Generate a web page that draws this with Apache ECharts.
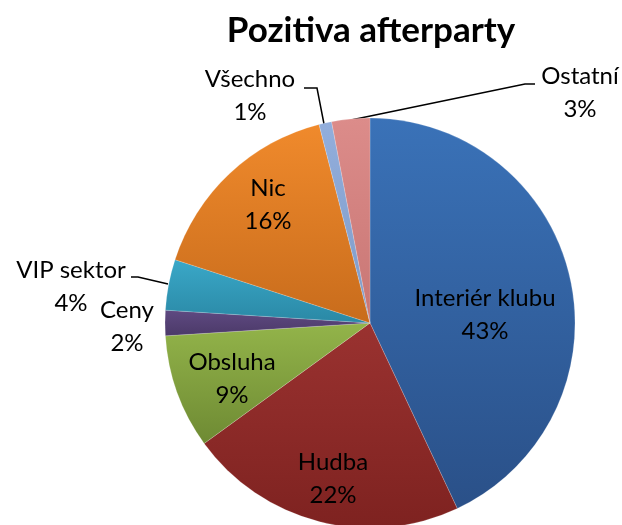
<!DOCTYPE html>
<html><head><meta charset="utf-8">
<script src="https://cdn.jsdelivr.net/npm/echarts@6/dist/echarts.min.js"></script>
<style>html,body{margin:0;padding:0;background:#fff}#c{width:622px;height:525px}</style>
</head><body><div id="c"></div>
<script>
const categories = ['Interiér klubu','Hudba','Obsluha','Ceny','VIP sektor','Nic','Všechno','Ostatní'];
const values = [43, 22, 9, 2, 4, 16, 1, 3];
const colorsTop = ['#3A72B8','#9A3230','#93B44A','#5F4A82','#3AA8C8','#F08A2C','#92AEDC','#DC8C8A'];
const colorsBottom = ['#2A5088','#7E2220','#6E8A33','#4B3968','#2A88A5','#C86C1C','#7F9BC8','#C87674'];

// label placement (styling): centre of the label, optional leader line points
const labelPlaces = [
  {x: 485, y: 315},
  {x: 333, y: 479},
  {x: 232, y: 379},
  {x: 127, y: 327},
  {x: 71, y: 287, line: [[168, 284], [138, 277], [131, 277]]},
  {x: 268, y: 205},
  {x: 250, y: 96, line: [[324, 124], [317, 88], [304, 88]]},
  {x: 580, y: 93, line: [[351, 120], [525, 84], [535, 84]]}
];

const chart = echarts.init(document.getElementById('c'));
chart.setOption({
  animation: false,
  title: {
    text: 'Pozitiva afterparty',
    left: 366, top: 8, textAlign: 'center',
    textStyle: {fontFamily: 'Lato', fontWeight: 'bold', fontSize: 35, color: '#000'}
  },
  series: [{
    type: 'pie',
    center: [370, 323],
    radius: 205,
    startAngle: 90,
    clockwise: true,
    avoidLabelOverlap: false,
    data: categories.map((c, i) => ({
      name: c, value: values[i],
      label: {position: labelPlaces[i].line ? 'outside' : 'inside'},
      labelLine: {show: !!labelPlaces[i].line},
      itemStyle: {color: new echarts.graphic.LinearGradient(0, 0, 0, 1, [
        {offset: 0, color: colorsTop[i]}, {offset: 1, color: colorsBottom[i]}])}
    })),
    itemStyle: {borderColor: 'rgba(255,255,255,0.35)', borderWidth: 0.5},
    label: {
      show: true,
      formatter: p => p.name + '\n' + p.value + '%',
      fontFamily: 'Lato', fontSize: 24, color: '#000', lineHeight: 33, align: 'center'
    },
    labelLine: {show: true, lineStyle: {color: '#000', width: 1.5}},
    labelLayout: function (params) {
      const lp = labelPlaces[params.dataIndex];
      const r = {x: lp.x, y: lp.y, align: 'center', verticalAlign: 'middle'};
      if (lp.line) r.labelLinePoints = lp.line;
      return r;
    }
  }]
});
</script></body></html>
